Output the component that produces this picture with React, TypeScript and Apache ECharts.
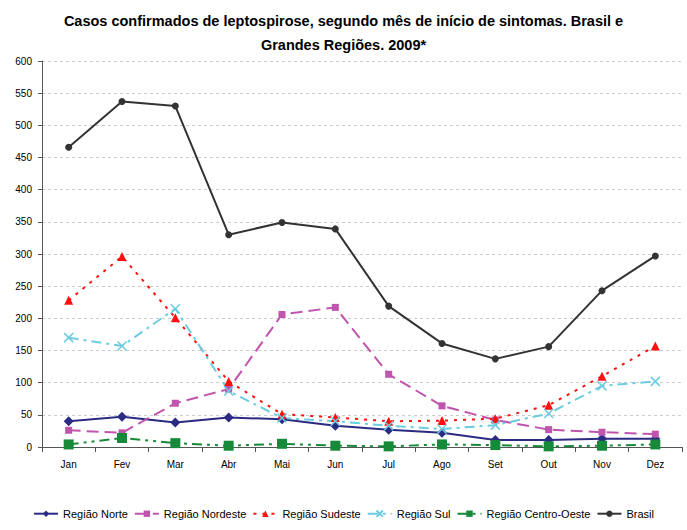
import React, { useEffect, useRef } from "react";
import * as echarts from "echarts";

const months = ["Jan", "Fev", "Mar", "Abr", "Mai", "Jun", "Jul", "Ago", "Set", "Out", "Nov", "Dez"];
const norte = [40, 47, 38, 46, 43, 33, 27, 22, 11, 11, 13, 13];
const nordeste = [26, 22, 68, 90, 206, 217, 113, 64, 42, 27, 23, 20];
const sudeste = [228, 296, 201, 102, 51, 46, 40, 41, 44, 65, 110, 157];
const sul = [170, 157, 215, 87, 45, 40, 33, 28, 34, 52, 95, 102];
const centroOeste = [4, 14, 6, 2, 5, 2, 1, 4, 3, 1, 2, 4];
const brasil = [466, 537, 530, 330, 349, 339, 219, 161, 137, 156, 243, 297];

const FONT = "'Liberation Sans', Arial, sans-serif";

export default function App() {
  const ref = useRef<HTMLDivElement>(null);
  useEffect(() => {
    document.body.style.margin = "0";
    const chart = echarts.init(ref.current!, null, { renderer: "svg" });
    const xSym = "path://M0,0L10,10M10,0L0,10";
    chart.setOption({
      animation: false,
      backgroundColor: "#ffffff",
      title: {
        text: "Casos confirmados de leptospirose, segundo mês de início de sintomas. Brasil e\nGrandes Regiões. 2009*",
        left: "center",
        top: 4,
        textStyle: { fontFamily: FONT, fontSize: 14.5, fontWeight: "bold", color: "#000", lineHeight: 24 },
      },
      grid: { left: 42, right: 5, top: 61, bottom: 83, containLabel: false },
      legend: {
        top: 503,
        left: "center",
        itemWidth: 24,
        itemHeight: 8,
        itemGap: 6,
        textStyle: { fontFamily: FONT, fontSize: 11, color: "#000" },
        data: ["Região Norte", "Região Nordeste", "Região Sudeste", "Região Sul", "Região Centro-Oeste", "Brasil"],
      },
      xAxis: {
        type: "category",
        data: months,
        boundaryGap: true,
        axisLine: { lineStyle: { color: "#555", width: 1 } },
        axisTick: { show: true, alignWithLabel: false, length: 5, lineStyle: { color: "#555" } },
        axisLabel: { fontFamily: FONT, fontSize: 10, color: "#000", margin: 12 },
      },
      yAxis: {
        type: "value",
        min: 0,
        max: 600,
        interval: 50,
        axisLine: { show: true, lineStyle: { color: "#555", width: 1 } },
        axisTick: { show: true, length: 4, lineStyle: { color: "#555" } },
        axisLabel: { fontFamily: FONT, fontSize: 10, color: "#000", margin: 10 },
        splitLine: { show: true, lineStyle: { color: "#cccccc", type: [3, 3], width: 1 } },
      },
      series: [
        {
          name: "Região Norte", type: "line", data: norte,
          symbol: "diamond", symbolSize: 10,
          lineStyle: { color: "#2B2B84", width: 2 },
          itemStyle: { color: "#2B2B84" },
        },
        {
          name: "Região Nordeste", type: "line", data: nordeste,
          symbol: "rect", symbolSize: 7,
          lineStyle: { color: "#C055AE", width: 2, type: [12, 6] },
          itemStyle: { color: "#C055AE" },
        },
        {
          name: "Região Sudeste", type: "line", data: sudeste,
          symbol: "triangle", symbolSize: 9,
          lineStyle: { color: "#FF1010", width: 2, type: [3, 6] },
          itemStyle: { color: "#FF1010" },
        },
        {
          name: "Região Sul", type: "line", data: sul,
          symbol: xSym, symbolSize: 9,
          lineStyle: { color: "#6CCCE0", width: 2, type: [10, 5, 3, 5] },
          itemStyle: { color: "none", borderColor: "#6CCCE0", borderWidth: 1.5 },
        },
        {
          name: "Região Centro-Oeste", type: "line", data: centroOeste,
          symbol: "rect", symbolSize: 10,
          lineStyle: { color: "#178A3A", width: 2, type: [10, 5, 3, 5, 3, 5] },
          itemStyle: { color: "#178A3A" },
        },
        {
          name: "Brasil", type: "line", data: brasil,
          symbol: "circle", symbolSize: 7,
          lineStyle: { color: "#333333", width: 2 },
          itemStyle: { color: "#333333" },
        },
      ],
    });
    return () => chart.dispose();
  }, []);
  return <div ref={ref} style={{ width: 687, height: 530, position: "absolute", left: 0, top: 0 }} />;
}
